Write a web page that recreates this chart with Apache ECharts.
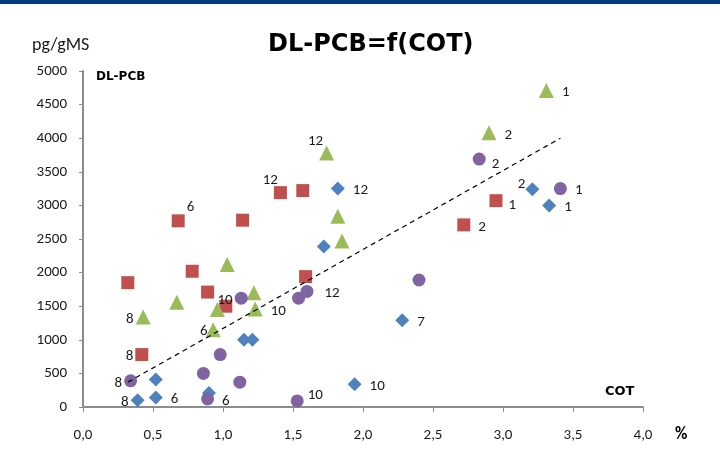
<!DOCTYPE html>
<html>
<head>
<meta charset="utf-8">
<script src="https://cdn.jsdelivr.net/npm/echarts@6/dist/echarts.min.js"></script>
<style>
  html, body { margin: 0; padding: 0; background: #fff; }
  #chart { width: 720px; height: 462px; }
</style>
</head>
<body>
<div id="chart"></div>
<script>
// COT (%) / DL-PCB (pg/gMS) par série
const bluePts = [[0.39, 100], [0.52, 140], [0.52, 410], [0.90, 210], [1.15, 1000], [1.21, 1000], [1.72, 2390], [1.94, 340], [2.28, 1290], [1.82, 3250], [3.21, 3240], [3.33, 3000]];
const blueLbl = ['8', '6', '', '', '', '', '', '10', '7', '12', '2', '1'];

const redPts = [[0.32, 1850], [0.78, 2020], [0.89, 1710], [1.02, 1500], [0.42, 780], [1.59, 1940], [0.68, 2770], [1.14, 2780], [1.41, 3190], [1.57, 3220], [2.95, 3070], [2.72, 2710]];
const redLbl = ['', '', '', '', '8', '', '6', '', '12', '', '1', '2'];

const greenPts = [[0.43, 1340], [0.67, 1560], [1.03, 2120], [0.96, 1450], [0.93, 1150], [1.22, 1700], [1.23, 1460], [1.85, 2470], [1.74, 3780], [1.82, 2840], [3.31, 4710], [2.90, 4080]];
const greenLbl = ['8', '', '', '', '6', '', '10', '', '12', '', '1', '2'];

const purplePts = [[0.34, 390], [0.86, 500], [0.98, 780], [0.89, 120], [1.13, 1620], [1.12, 370], [1.54, 1620], [1.60, 1720], [1.53, 90], [2.40, 1890], [2.83, 3690], [3.41, 3250]];
const purpleLbl = ['8', '', '', '6', '10', '', '', '12', '10', '', '2', '1'];

const trendPts = [[0.32, 370], [3.41, 4000]];

const xTicks = ['0,0', '0,5', '1,0', '1,5', '2,0', '2,5', '3,0', '3,5', '4,0'];

// placement des étiquettes (l = gauche, r = droite, tl = haut-gauche, tr = haut-droite, br = droite-bas)
const bluePlace = ['l', 'r', '', '', '', '', '', 'r', 'r', 'r', 'tl2', 'r'];
const redPlace = ['', '', '', '', 'l', '', 'tr', '', 'tl', '', 'br', 'r'];
const greenPlace = ['l', '', '', '', 'l0', '', 'r', '', 'tl', '', 'r', 'r'];
const purplePlace = ['l', '', '', 'r', 'l', '', '', 'rr', 'tr2', '', 'br', 'r'];

const FONT = 'Carlito, Lato, sans-serif';
const WIDE = '"DejaVu Sans", sans-serif';

// côté + décalage [dx, dy] appliqué via labelLayout
const PLACE = {
  l:   { position: 'left', distance: 2, d: [0, 2] },
  l0:  { position: 'left', distance: -2, d: [0, 2] },
  r:   { position: 'right', distance: 8, d: [0, 2] },
  rr:  { position: 'right', distance: 11, d: [0, 2] },
  tl:  { position: 'left', distance: 0, d: [4, -12] },
  tl2: { position: 'left', distance: 0, d: [0, -5] },
  tr:  { position: 'right', distance: 2, d: [0, -14] },
  tr2: { position: 'right', distance: 4, d: [0, -6] },
  br:  { position: 'right', distance: 6, d: [0, 5] }
};

function buildData(pts, lbls, places) {
  return pts.map((p, i) => {
    const pl = PLACE[places[i]];
    return {
      value: p,
      lbl: lbls[i],
      label: pl ? { show: true, position: pl.position, distance: pl.distance } : { show: false }
    };
  });
}

function scatter(name, pts, lbls, places, symbol, size, color) {
  return {
    name: name,
    type: 'scatter',
    symbol: symbol,
    symbolSize: size,
    itemStyle: { color: color, opacity: 1 },
    label: {
      fontFamily: FONT,
      fontSize: 15,
      color: '#1a1a1a',
      formatter: p => p.data.lbl
    },
    labelLayout: p => {
      const pl = PLACE[places[p.dataIndex]];
      const d = pl ? pl.d : [0, 0];
      return { dx: d[0], dy: d[1], hideOverlap: false };
    },
    data: buildData(pts, lbls, places),
    z: 3
  };
}

const chart = echarts.init(document.getElementById('chart'));

const option = {
  animation: false,
  backgroundColor: '#ffffff',
  textStyle: { fontFamily: FONT },
  graphic: [
    { type: 'rect', left: 0, top: 0, shape: { width: 720, height: 4 }, style: { fill: '#013a7a' } },
    { type: 'text', left: 268, top: 33, style: { text: 'DL-PCB=f(COT)', font: 'bold 24px ' + WIDE, fill: '#000' } },
    { type: 'text', left: 32, top: 36, style: { text: 'pg/gMS', font: '18px ' + FONT, fill: '#1a1a1a' } },
    { type: 'text', left: 96, top: 71, style: { text: 'DL-PCB', font: 'bold 12px ' + WIDE, fill: '#000' } },
    { type: 'text', left: 605, top: 385, style: { text: 'COT', font: 'bold 13px ' + WIDE, fill: '#000' } },
    { type: 'text', left: 675, top: 426, style: { text: '%', font: 'bold 17px ' + FONT, fill: '#000' } }
  ],
  grid: { left: 83, right: 77, top: 71, bottom: 55 },
  xAxis: {
    type: 'value',
    min: 0,
    max: 4,
    interval: 0.5,
    axisLine: { lineStyle: { color: '#8c8c8c', width: 2 } },
    axisTick: { show: true, length: 5, lineStyle: { color: '#8c8c8c' } },
    splitLine: { show: false },
    axisLabel: {
      margin: 21,
      fontSize: 15,
      fontFamily: FONT,
      color: '#1a1a1a',
      formatter: v => xTicks[Math.round(v / 0.5)]
    }
  },
  yAxis: {
    type: 'value',
    min: 0,
    max: 5000,
    interval: 500,
    axisLine: { show: true, lineStyle: { color: '#8c8c8c', width: 2 } },
    axisTick: { show: true, length: 4, lineStyle: { color: '#8c8c8c' } },
    splitLine: { show: false },
    axisLabel: {
      margin: 16,
      fontSize: 15,
      fontFamily: FONT,
      color: '#1a1a1a',
      formatter: v => String(v)
    }
  },
  series: [
    {
      name: 'tendance',
      type: 'line',
      symbol: 'none',
      lineStyle: { color: '#000', width: 1.2, type: [5, 4] },
      data: trendPts,
      z: 4
    },
    scatter('bleu', bluePts, blueLbl, bluePlace, 'diamond', 14, '#4f81bd'),
    scatter('rouge', redPts, redLbl, redPlace, 'rect', 13, '#c0504d'),
    scatter('vert', greenPts, greenLbl, greenPlace, 'triangle', 15, '#9bbb59'),
    scatter('violet', purplePts, purpleLbl, purplePlace, 'circle', 13, '#8064a2')
  ]
};

chart.setOption(option);
</script>
</body>
</html>
